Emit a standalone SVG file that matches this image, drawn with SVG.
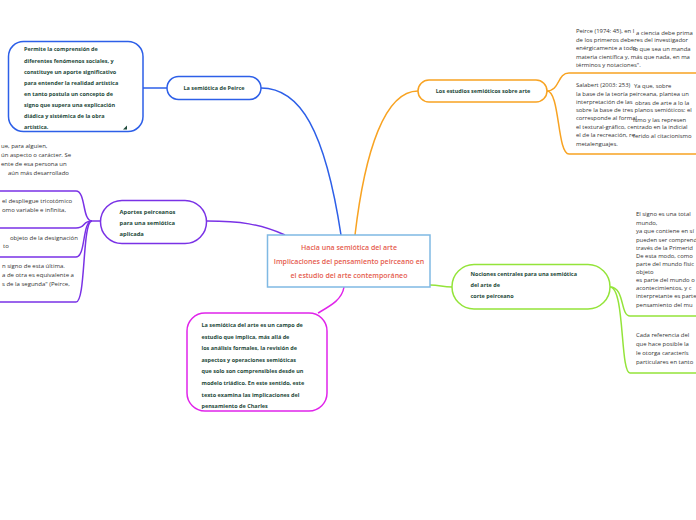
<svg xmlns="http://www.w3.org/2000/svg" width="696" height="520" viewBox="0 0 696 520">
<style>
.bg{fill:#fff}
.node{fill:#fff;stroke-width:1.5}
.nt{font-family:"Open Sans","DejaVu Sans",sans-serif;font-size:5.5px;font-weight:700;fill:#1e4a3b}
.ct{font-family:"Open Sans","DejaVu Sans",sans-serif;font-size:7px;font-weight:600;fill:#e55b4d;text-anchor:middle}
.rt{font-family:"Open Sans","DejaVu Sans",sans-serif;font-size:5.9px;fill:#333}
.lt{font-family:"Open Sans","DejaVu Sans",sans-serif;font-size:6px;fill:#333}
.c{fill:none;stroke-width:1.5}
.blue{stroke:#2d5fe8}.purple{stroke:#7a32e6}.orange{stroke:#f8a322}.green{stroke:#94e43a}.mag{stroke:#e024ea}
</style>
<rect class="bg" x="0" y="0" width="696" height="520"/>
<g id="connectors">
<path class="c blue" d="M261,88 C300,88 325,130 341,235"/>
<path class="c blue" d="M167,88 L143,88"/>
<path class="c orange" d="M418,91 C385,91 365,150 355,235"/>
<path class="c orange" d="M547,91 C560,91 557,73 569,73 L696,73"/>
<path class="c orange" d="M547,91 C560,91 557,154 569,154 L696,154"/>
<path class="c purple" d="M207,221 C240,221 260,224 285,235"/>
<path class="c purple" d="M100,221 L92,221"/>
<path class="c purple" d="M92,221 C82,221 86,191 76,191 L0,191"/>
<path class="c purple" d="M92,221 C82,221 86,228 76,228 L0,228"/>
<path class="c purple" d="M92,221 C82,221 86,257 76,257 L0,257"/>
<path class="c purple" d="M92,221 C82,221 86,302 76,302 L0,302"/>
<path class="c green" d="M430,285 C440,285 442,287 452,287"/>
<path class="c green" d="M610,287 C625,287 620,316 630,316 L696,316"/>
<path class="c green" d="M610,287 C625,287 620,373 630,373 L696,373"/>
<path class="c mag" d="M344,287 C342,300 330,306 318,313"/>
</g>
<g id="central">
<rect class="node" x="267.5" y="235" width="162.5" height="52" stroke="#7fb9e3"/>
<text class="ct" x="349" y="250">Hacia una semiótica del arte</text>
<text class="ct" x="349" y="264">Implicaciones del pensamiento peirceano en</text>
<text class="ct" x="349" y="278">el estudio del arte contemporáneo</text>
</g>
<g id="semiotica-peirce">
<rect class="node" x="167" y="76.5" width="94" height="23" rx="11.5" stroke="#2d5fe8"/>
<text class="nt" x="214" y="90" text-anchor="middle">La semiótica de Peirce</text>
</g>
<g id="permite">
<rect class="node" x="8.5" y="41.5" width="134.5" height="90" rx="15" stroke="#2d5fe8"/>
<text class="nt" x="24" y="51">Permite la comprensión de</text>
<text class="nt" x="24" y="62.5">diferentes fenómenos sociales, y</text>
<text class="nt" x="24" y="74">constituye un aporte significativo</text>
<text class="nt" x="24" y="85">para entender la realidad artística</text>
<text class="nt" x="24" y="96">en tanto postula un concepto de</text>
<text class="nt" x="24" y="107">signo que supera una explicación</text>
<text class="nt" x="24" y="118">diádica y sistémica de la obra</text>
<text class="nt" x="24" y="129">artística.</text>
<polygon points="123,129.5 127,125.5 127,129.5" fill="#1e4a3b"/>
</g>
<g id="estudios">
<rect class="node" x="418" y="80" width="129" height="22" rx="11" stroke="#f8a322"/>
<text class="nt" x="483" y="93" text-anchor="middle">Los estudios semióticos sobre arte</text>
</g>
<g id="peirce-1974">
<text class="rt" x="576" y="33">Peirce (1974: 45), en l</text>
<text class="rt" x="636" y="34.5">a ciencia debe prima</text>
<text class="rt" x="576" y="41.5">de los primeros deberes del investigador</text>
<text class="rt" x="576" y="49.5">enérgicamente a todo</text>
<text class="rt" x="633" y="51">lo que sea un manda</text>
<text class="rt" x="576" y="58.5">materia científica y, más que nada, en ma</text>
<text class="rt" x="576" y="67">términos y notaciones".</text>
</g>
<g id="salabert">
<text class="rt" x="576" y="87">Salabert (2003: 253)</text>
<text class="rt" x="634" y="88">Ya que, sobre</text>
<text class="rt" x="576" y="95.5">la base de la teoría peirceana, plantea un</text>
<text class="rt" x="576" y="103.5">interpretación de las</text>
<text class="rt" x="635" y="105">obras de arte a lo la</text>
<text class="rt" x="576" y="112">sobre la base de tres planos semióticos: el</text>
<text class="rt" x="576" y="120">corresponde al formal</text>
<text class="rt" x="633" y="121.5">ismo y las represen</text>
<text class="rt" x="576" y="129">el textural-gráfico, centrado en la indicial</text>
<text class="rt" x="576" y="137">el de la recreación, re</text>
<text class="rt" x="633" y="137.5">ferido al citacionismo</text>
<text class="rt" x="576" y="146">metalenguajes.</text>
</g>
<g id="aportes">
<rect class="node" x="100.5" y="200.5" width="106" height="43" rx="21.5" stroke="#7a32e6"/>
<text class="nt" x="119.5" y="214" style="font-size:5.8px">Aportes peirceanos</text>
<text class="nt" x="119.5" y="225" style="font-size:5.8px">para una semiótica</text>
<text class="nt" x="119.5" y="236" style="font-size:5.8px">aplicada</text>
</g>
<g id="signo-def">
<text class="lt" x="1" y="148">ue, para alguien,</text>
<text class="lt" x="1" y="157">ún aspecto o carácter. Se</text>
<text class="lt" x="1" y="166">ente de esa persona un</text>
<text class="lt" x="8" y="175">aún más desarrollado</text>
</g>
<g id="despliegue">
<text class="lt" x="2" y="203">el despliegue tricotómico</text>
<text class="lt" x="2" y="212">omo variable e infinita,</text>
</g>
<g id="objeto">
<text class="lt" x="10" y="240">objeto de la designación</text>
<text class="lt" x="3" y="248">to</text>
</g>
<g id="signo-ultima">
<text class="lt" x="2" y="268">n signo de esta última.</text>
<text class="lt" x="2" y="277">a de otra es equivalente a</text>
<text class="lt" x="2" y="286">s de la segunda" (Peirce,</text>
</g>
<g id="nociones">
<rect class="node" x="452" y="264.5" width="158" height="44.5" rx="22" stroke="#94e43a"/>
<text class="nt" x="470.5" y="276">Nociones centrales para una semiótica</text>
<text class="nt" x="470.5" y="287">del arte de</text>
<text class="nt" x="470.5" y="298">corte peirceano</text>
</g>
<g id="signo-totalidad">
<text class="rt" x="636" y="216">El signo es una total</text>
<text class="rt" x="636" y="225">mundo,</text>
<text class="rt" x="636" y="233">ya que contiene en sí</text>
<text class="rt" x="636" y="241.5">pueden ser comprend</text>
<text class="rt" x="636" y="250">través de la Primerid</text>
<text class="rt" x="636" y="258">De esta modo, como</text>
<text class="rt" x="636" y="266">parte del mundo físic</text>
<text class="rt" x="636" y="274">objeto</text>
<text class="rt" x="636" y="282">es parte del mundo o</text>
<text class="rt" x="636" y="290">acontecimientos, y c</text>
<text class="rt" x="636" y="298">interpretante es parte</text>
<text class="rt" x="636" y="306.5">pensamiento del mu</text>
</g>
<g id="cada-referencia">
<text class="rt" x="636" y="337">Cada referencia del</text>
<text class="rt" x="636" y="346">que hace posible la</text>
<text class="rt" x="636" y="355">le otorga caracterís</text>
<text class="rt" x="636" y="364">particulares en tanto</text>
</g>
<g id="semiotica-arte">
<rect class="node" x="187" y="313" width="140" height="98" rx="18" stroke="#e024ea"/>
<text class="nt" x="201.5" y="327">La semiótica del arte es un campo de</text>
<text class="nt" x="201.5" y="338.6">estudio que implica, más allá de</text>
<text class="nt" x="201.5" y="350.2">los análisis formales, la revisión de</text>
<text class="nt" x="201.5" y="361.8">aspectos y operaciones semióticas</text>
<text class="nt" x="201.5" y="373.4">que solo son comprensibles desde un</text>
<text class="nt" x="201.5" y="385">modelo triádico. En este sentido, este</text>
<text class="nt" x="201.5" y="396.6">texto examina las implicaciones del</text>
<text class="nt" x="201.5" y="408.2">pensamiento de Charles</text>
</g>
</svg>
